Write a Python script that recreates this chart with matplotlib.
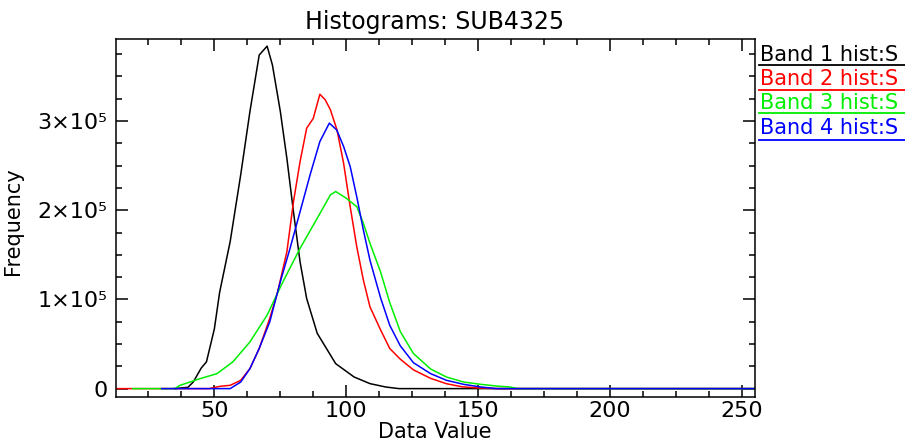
import matplotlib
matplotlib.use('Agg')
import matplotlib.pyplot as plt
from matplotlib.ticker import MultipleLocator, FixedLocator, FixedFormatter
from matplotlib.lines import Line2D

# ------------ histogram values ----------------------------------------------
band1_x = [35, 40, 42, 45, 47, 50, 52, 56, 60, 63.5, 67, 70, 72, 75, 77.5, 80, 82.5, 85, 89, 92.5, 96, 103, 109, 115, 120, 255]
band1_y = [0, 1500, 7400, 23000, 30000, 67000, 108000, 165000, 240000, 311000, 374000, 384000, 363000, 311000,
           258000, 198000, 142000, 101000, 62000, 45000, 28000, 13000, 5600, 1800, 0, 0]

band2_x = [13, 48, 52, 56, 60, 63.5, 67, 71, 74, 77.5, 80, 82.5, 85, 87.5, 90, 92, 94, 96.5, 99, 101.5, 104, 106.5,
           109, 113, 116.5, 120.5, 125.5, 132, 138, 144, 150, 157, 255]
band2_y = [0, 0, 2500, 3700, 9300, 22500, 45000, 78700, 108500, 153500, 209600, 254600, 292000, 303000, 330000,
           324000, 312700, 290000, 252800, 204000, 159000, 121700, 91700, 66000, 45000, 33000, 21000, 11500, 5500,
           2000, 800, 0, 0]

band3_x = [19, 35, 37, 44.6, 51, 57, 63.5, 70, 76, 82.5, 89, 94, 96, 100, 104, 106.5, 109, 113, 116.5, 120.5, 125.5,
           132, 138, 144.5, 151, 157, 162, 165, 255]
band3_y = [0, 0, 3700, 11200, 16800, 30000, 52400, 82400, 119800, 157300, 191000, 217200, 221000, 213500, 204000,
           185400, 163000, 131000, 96500, 64000, 39300, 22000, 13000, 7400, 4800, 2900, 1800, 0, 0]

band4_x = [30, 56, 60, 63.5, 67, 71, 75, 78.7, 82.5, 86.3, 90, 93.6, 96.4, 99, 101.5, 104, 106.5, 109, 113, 116.5,
           120.5, 125.5, 132, 138, 144.5, 151, 157, 255]
band4_y = [0, 0, 7400, 22500, 45000, 74800, 119800, 157300, 198400, 239700, 277000, 297700, 290000, 271500, 249000,
           215000, 177800, 144000, 102000, 71000, 48000, 29000, 16800, 9300, 4800, 1800, 0, 0]

series_names = ['Band 1 hist:S', 'Band 2 hist:S', 'Band 3 hist:S', 'Band 4 hist:S']
series_colors = ['black', 'red', '#00ee00', 'blue']

y_ticks = [0, 100000, 200000, 300000]
y_tick_labels = ['0', '1\u00d710\u2075', '2\u00d710\u2075', '3\u00d710\u2075']
x_ticks = [50, 100, 150, 200, 250]

W, H = 905, 441
fig = plt.figure(figsize=(W / 100, H / 100), dpi=100)
ax = fig.add_axes([116 / W, 1 - 397 / H, (755 - 116) / W, (397 - 39) / H])

all_x = [band1_x, band2_x, band3_x, band4_x]
all_y = [band1_y, band2_y, band3_y, band4_y]
for xs, ys, c in zip(all_x, all_y, series_colors):
    ax.plot(xs, ys, color=c, lw=1.1)

ax.set_xlim(12.7, 255)
ax.set_ylim(-9400, 392000)

# ------------ ticks: inward, on every side ------------
ax.xaxis.set_major_locator(FixedLocator(x_ticks))
ax.xaxis.set_minor_locator(MultipleLocator(12.5))
ax.yaxis.set_major_locator(FixedLocator(y_ticks))
ax.yaxis.set_major_formatter(FixedFormatter(y_tick_labels))
ax.yaxis.set_minor_locator(MultipleLocator(25000))
ax.tick_params(which='both', direction='in', top=True, right=True, width=1.1, colors='black')
ax.tick_params(which='major', length=8.6, labelsize=16)
ax.tick_params(which='minor', length=4.3)
ax.tick_params(axis='x', pad=3)
ax.tick_params(axis='y', pad=6)
for s in ax.spines.values():
    s.set_linewidth(1.1)

fig.text(435 / W, 1 - 22 / H, 'Histograms: SUB4325', ha='center', va='center', fontsize=17)
fig.text(435 / W, 1 - 432 / H, 'Data Value', ha='center', va='center', fontsize=15)
# y label sits right at the left edge of the picture
fig.text(23 / W, 1 - 221 / H, 'Frequency', rotation=90, ha='right', va='center', fontsize=15)

# ------------ legend on the right, text with an underline ------------
text_base = [61, 85, 109, 134]
line_rows = [65, 90, 113, 140]
for name, c, tb, lr in zip(series_names, series_colors, text_base, line_rows):
    fig.text(760 / W, 1 - tb / H, name, color=c, fontsize=15, ha='left', va='baseline')
    fig.add_artist(Line2D([759 / W, 1.0], [1 - lr / H, 1 - lr / H], color=c, lw=1.3,
                          transform=fig.transFigure))

fig.savefig('out.png', dpi=100)
